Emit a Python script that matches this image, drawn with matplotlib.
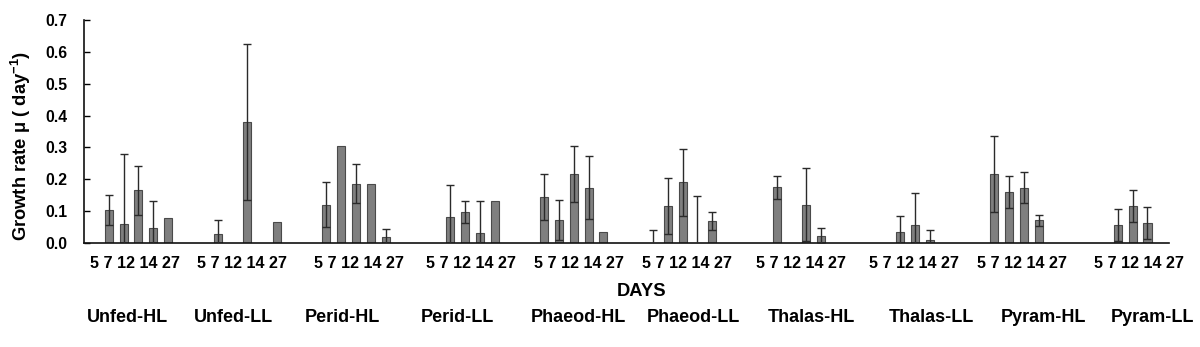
import numpy as np
import matplotlib
matplotlib.use("Agg")
import matplotlib.pyplot as plt
from matplotlib import font_manager
from matplotlib.transforms import blended_transform_factory

# ---------------- data ----------------
groups = ["Unfed-HL", "Unfed-LL", "Perid-HL", "Perid-LL", "Phaeod-HL",
          "Phaeod-LL", "Thalas-HL", "Thalas-LL", "Pyram-HL", "Pyram-LL"]
days = ["5", "7", "12", "14", "27"]
day_label = " ".join(days)

# growth rate per group (rows) for days 5, 7, 12, 14, 27 (columns)
unfed_hl = [0.104, 0.060, 0.165, 0.046, 0.078]
unfed_ll = [0.028, 0.0, 0.379, 0.0, 0.066]
perid_hl = [0.120, 0.303, 0.186, 0.185, 0.019]
perid_ll = [0.0, 0.081, 0.097, 0.030, 0.133]
phaeod_hl = [0.145, 0.072, 0.216, 0.174, 0.036]
phaeod_ll = [0.0, 0.116, 0.190, 0.0, 0.068]
thalas_hl = [0.0, 0.175, 0.0, 0.120, 0.023]
thalas_ll = [0.0, 0.0, 0.034, 0.056, 0.008]
pyram_hl = [0.0, 0.217, 0.160, 0.174, 0.071]
pyram_ll = [0.0, 0.0, 0.056, 0.116, 0.064]

unfed_hl_err = [0.048, 0.220, 0.077, 0.085, 0.0]
unfed_ll_err = [0.044, 0.0, 0.245, 0.0, 0.0]
perid_hl_err = [0.070, 0.0, 0.062, 0.0, 0.025]
perid_ll_err = [0.0, 0.100, 0.035, 0.103, 0.0]
phaeod_hl_err = [0.073, 0.062, 0.088, 0.100, 0.0]
phaeod_ll_err = [0.042, 0.088, 0.105, 0.149, 0.028]
thalas_hl_err = [0.0, 0.036, 0.0, 0.114, 0.024]
thalas_ll_err = [0.0, 0.0, 0.051, 0.100, 0.034]
pyram_hl_err = [0.0, 0.120, 0.050, 0.050, 0.018]
pyram_ll_err = [0.0, 0.0, 0.050, 0.050, 0.050]

yticks = [0.0, 0.1, 0.2, 0.3, 0.4, 0.5, 0.6, 0.7]
ytick_labels = ["0.0", "0.1", "0.2", "0.3", "0.4", "0.5", "0.6", "0.7"]

values = np.array([unfed_hl, unfed_ll, perid_hl, perid_ll, phaeod_hl,
                   phaeod_ll, thalas_hl, thalas_ll, pyram_hl, pyram_ll])
errors = np.array([unfed_hl_err, unfed_ll_err, perid_hl_err, perid_ll_err,
                   phaeod_hl_err, phaeod_ll_err, thalas_hl_err, thalas_ll_err,
                   pyram_hl_err, pyram_ll_err])

# ---------------- fonts ----------------
font = "Liberation Sans"
plt.rcParams["mathtext.fontset"] = "custom"
plt.rcParams["mathtext.rm"] = "Liberation Sans:bold"
plt.rcParams["mathtext.it"] = "Liberation Sans:bold"
plt.rcParams["mathtext.bf"] = "Liberation Sans:bold"

# ---------------- figure ----------------
W, H = 1200, 347
fig = plt.figure(figsize=(W / 100, H / 100), dpi=100)
ax = fig.add_axes([84 / W, (H - 243) / H, (1169 - 84) / W, (243 - 20) / H])

n_series = len(days)
spacing = 0.1362
bar_w = 0.074
x = np.arange(len(groups))
for j in range(n_series):
    xs = x + (j - 2) * spacing
    v = values[:, j]
    e = errors[:, j]
    m = v > 0
    ax.bar(xs[m], v[m], width=bar_w, color="#7f7f7f", edgecolor="#4a4a4a",
           linewidth=0.8, zorder=2)
    me = e > 0
    ax.errorbar(xs[me], v[me], yerr=e[me], fmt="none", ecolor="#2a2a2a",
                elinewidth=1.0, capsize=3, capthick=1.0, zorder=3)

ax.set_xlim(-0.5, 9.47)
ax.set_ylim(0, 0.7)
ax.set_yticks(yticks)
ax.set_yticklabels(ytick_labels, fontfamily=font, fontweight="bold", fontsize=11.3)
ax.tick_params(axis="y", direction="in", length=4, width=1, pad=12, colors="black")
ax.set_xticks([])
for s in ["top", "right"]:
    ax.spines[s].set_visible(False)
for s in ["left", "bottom"]:
    ax.spines[s].set_linewidth(1.2)
    ax.spines[s].set_color("#111111")

tr = blended_transform_factory(ax.transData, fig.transFigure)
day_off = [-0.03, -0.05, 0.03, 0.06, 0.05, 0.04, 0.09, 0.13, 0.12, 0.19]
grp_off = [-0.10, -0.13, -0.13, -0.07, 0.04, 0.10, 0.18, 0.29, 0.32, 0.32]
for i, g in enumerate(groups):
    fig.text(i + day_off[i], 1 - 263 / H, day_label, transform=tr,
             ha="center", va="center", fontfamily=font, fontweight="bold",
             fontsize=11.6)
    fig.text(i + grp_off[i], 1 - 318 / H, g, transform=tr,
             ha="center", va="center", fontfamily=font, fontweight="bold",
             fontsize=13)

fig.text(642 / W, 1 - 291 / H, "DAYS", ha="center", va="center",
         fontfamily=font, fontweight="bold", fontsize=13.2)
fig.text(21 / W, 1 - 146 / H, r"Growth rate μ ( day$^{\mathrm{-1}}$)",
         rotation=90, ha="center", va="center", fontfamily=font,
         fontweight="bold", fontsize=13.2)

fig.savefig("out.png", dpi=100, facecolor="white")
